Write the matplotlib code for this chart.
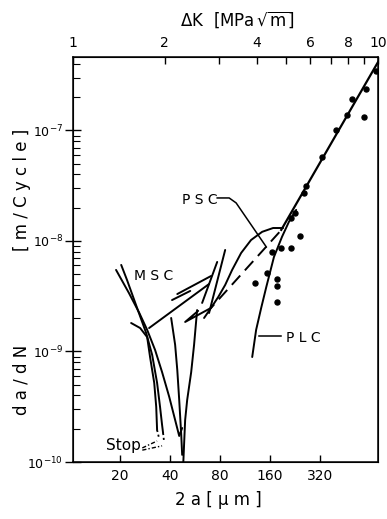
import matplotlib.pyplot as plt
from matplotlib.ticker import FixedLocator, NullLocator, LogLocator, NullFormatter

plt.rcParams['font.family'] = ['Liberation Sans Narrow', 'DejaVu Sans']
plt.rcParams['lines.scale_dashes'] = False

# values: crack length 2a [um], da/dN [m/Cycle]
main_2a = [717, 187]
main_rate = [4.17e-7, 1.26e-8]

dot_2a = [697, 607, 500, 590, 467, 400, 330, 264, 257, 226, 214,
          243, 214, 187, 165, 154, 177, 177, 130, 177]
dot_rate = [3.45e-7, 2.38e-7, 1.93e-7, 1.32e-7, 1.38e-7, 1.01e-7, 5.75e-8,
            3.15e-8, 2.72e-8, 1.79e-8, 1.61e-8,
            1.11e-8, 8.65e-9, 8.65e-9, 7.94e-9, 5.13e-9, 4.53e-9, 3.92e-9,
            4.17e-9, 2.81e-9]

# PSC
psc_arc_2a = [64.1, 70.6, 78.0, 85.9, 94.6, 107.2, 123, 143.5, 167, 192]
psc_arc_rate = [2.01e-9, 2.48e-9, 3.11e-9, 4.00e-9, 5.47e-9, 7.79e-9,
                1.02e-8, 1.21e-8, 1.31e-8, 1.31e-8]
psc_dash_2a = [182, 70.6]
psc_dash_rate = [1.2e-8, 2.48e-9]
psc_tail_2a = [70.6, 49.3, 59.0]
psc_tail_rate = [2.48e-9, 1.85e-9, 2.33e-9]

# PLC
plc_2a = [125, 132, 141.6, 152, 169, 189, 208, 230]
plc_rate = [8.91e-10, 1.57e-9, 2.48e-9, 3.84e-9, 7.16e-9, 1.09e-8, 1.49e-8, 1.91e-8]

# MSC bundle
msc1_2a = [18.9, 22.6, 26.1, 29.1, 32.5, 35.8, 39.5, 42.9, 45.4, 47.3]
msc1_rate = [5.47e-9, 3.38e-9, 2.23e-9, 1.57e-9, 1.03e-9, 6.5e-10, 3.9e-10,
             2.4e-10, 1.72e-10, 2.03e-10]
msc2_2a = [20.3, 22.0, 25.3, 28.7, 31.2, 33.4, 34.8, 35.8, 36.3]
msc2_rate = [6.07e-9, 4.44e-9, 2.48e-9, 1.47e-9, 9.3e-10, 5.2e-10, 3.15e-10,
             2.16e-10, 1.83e-10]
msc3_2a = [23.3, 26.4, 29.1, 30.3, 32.1, 33.0, 33.4]
msc3_rate = [1.81e-9, 1.63e-9, 1.35e-9, 8.9e-10, 5.2e-10, 3.15e-10, 1.95e-10]
msc4_2a = [40.6, 42.9, 44.2, 45.4, 46.7, 47.3]
msc4_rate = [2.01e-9, 1.15e-9, 6.8e-10, 3.64e-10, 1.75e-10, 1.16e-10]
msc5_2a = [48.0, 48.7, 49.3, 50.7, 53.6, 55.8, 58.2]
msc5_rate = [0.95e-10, 1.58e-10, 2.40e-10, 3.64e-10, 6.5e-10, 1.15e-9, 2.37e-9]
branch_2a = [[29.9, 68.7], [41.1, 52.9], [44.2, 70.6], [68.7, 85.9], [62.4, 76.9]]
branch_rate = [[1.63e-9, 4.08e-9], [2.92e-9, 3.53e-9], [3.31e-9, 4.82e-9],
               [2.23e-9, 8.29e-9], [2.75e-9, 6.46e-9]]
stop_2a = [[36.3, 36.8], [33.4, 34.3]]
stop_rate = [[1.83e-10, 1.52e-10], [1.95e-10, 1.65e-10]]

fig = plt.figure(figsize=(3.87, 5.19), dpi=100)
ax = fig.add_axes([73/387, 1-462/519, 305/387, 405/519])
ax.set_xscale('log')
ax.set_yscale('log')
ax.set_xlim(10.4, 716)
ax.set_ylim(1e-10, 4.62e-7)

k = dict(color='black', lw=1.4, solid_capstyle='round')
ax.plot(main_2a, main_rate, color='black', lw=1.6)
ax.plot(dot_2a, dot_rate, 'o', color='black', ms=3.6, ls='none')
ax.plot(psc_arc_2a, psc_arc_rate, **k)
ax.plot(psc_dash_2a, psc_dash_rate, color='black', lw=1.4, ls=(0, (9, 5)))
ax.plot(psc_tail_2a, psc_tail_rate, **k)
ax.plot(plc_2a, plc_rate, **k)
for xs, ys in [(msc1_2a, msc1_rate), (msc2_2a, msc2_rate), (msc3_2a, msc3_rate),
               (msc4_2a, msc4_rate), (msc5_2a, msc5_rate)]:
    ax.plot(xs, ys, **k)
for xs, ys in zip(branch_2a, branch_rate):
    ax.plot(xs, ys, **k)
for xs, ys in zip(stop_2a, stop_rate):
    ax.plot(xs, ys, color='black', lw=1.3, ls=(0, (1.5, 2)))

# labels and leaders
tk = dict(fontsize=10, color='black')
ax.text(32.0, 4.8e-9, 'M S C', ha='center', va='center', **tk)
ax.text(60.7, 2.35e-8, 'P S C', ha='center', va='center', **tk)
ax.text(253, 1.32e-9, 'P L C', ha='center', va='center', **tk)
ax.text(21.0, 1.42e-10, 'Stop', ha='center', va='center', fontsize=11, color='black')
ax.plot([76.9, 90.8, 100, 152], [2.45e-8, 2.45e-8, 2.21e-8, 8.83e-9], color='black', lw=1.1)
ax.plot([138, 187], [1.38e-9, 1.38e-9], color='black', lw=1.1)
ax.plot([27.2, 33.4], [1.34e-10, 1.55e-10], color='black', lw=1.0, ls=(0, (3, 1.5, 1, 1.5)))
ax.plot([27.2, 35.8], [1.28e-10, 1.40e-10], color='black', lw=1.0, ls=(0, (3, 1.5, 1, 1.5)))

# bottom axis
ax.xaxis.set_major_locator(FixedLocator([20, 40, 80, 160, 320]))
ax.xaxis.set_minor_locator(NullLocator())
ax.set_xticklabels(['20', '40', '80', '160', '320'])
ax.tick_params(axis='x', direction='in', length=5, width=1, labelsize=10, pad=5)

# left axis
ax.yaxis.set_major_locator(FixedLocator([1e-10, 1e-9, 1e-8, 1e-7]))
ax.set_yticklabels([r'$10^{-10}$', r'$10^{-9}$', r'$10^{-8}$', r'$10^{-7}$'])
ax.yaxis.set_minor_locator(LogLocator(base=10, subs=range(2, 10)))
ax.yaxis.set_minor_formatter(NullFormatter())
ax.tick_params(axis='y', which='major', direction='inout', length=12, width=1, labelsize=9, pad=1)
ax.tick_params(axis='y', which='minor', direction='in', length=5, width=0.8)
ax.tick_params(right=False, which='both')
for s in ax.spines.values():
    s.set_linewidth(1.1)

# top axis: Delta K
top = ax.twiny()
top.set_xscale('log')
top.set_xlim(1, 10)
top.xaxis.set_major_locator(FixedLocator(list(range(1, 11))))
top.xaxis.set_minor_locator(NullLocator())
top.set_xticklabels(['1', '2', '', '4', '', '6', '', '8', '', '10'])
top.tick_params(axis='x', direction='in', length=5, width=1, labelsize=10, pad=5)

fig.text(237/387, 1-20/519, r'$\mathrm{\Delta K}\ \ [\mathrm{MPa}\,\sqrt{\mathrm{m}}]$', ha='center', va='center', fontsize=12)
fig.text(218/387, 1-500/519, '2 a [ µ m ]', ha='center', va='center', fontsize=12)
fig.text(22/387, 1-380/519, 'd a / d N', rotation=90, ha='center', va='center', fontsize=12)
fig.text(22/387, 1-190/519, '[ m / C y c l e ]', rotation=90, ha='center', va='center', fontsize=12)

fig.savefig('out.png', dpi=100)
